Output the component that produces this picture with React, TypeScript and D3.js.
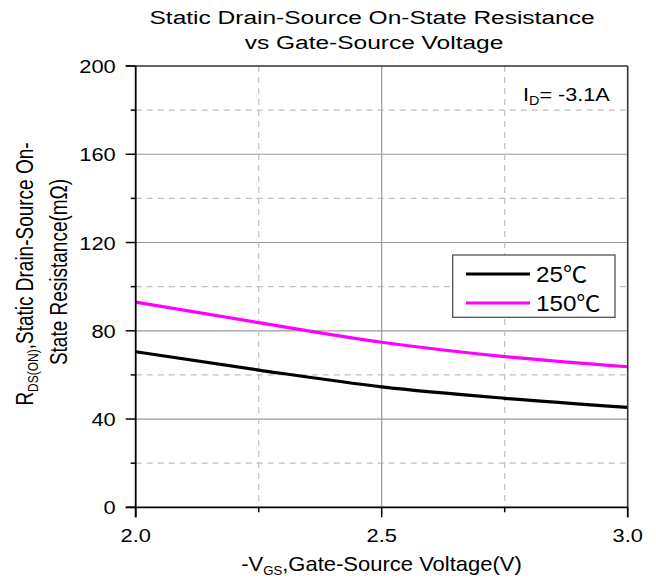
import React from "react";
import * as d3 from "d3";

const vgs = [2.0, 2.25, 2.5, 2.75, 3.0];
const r25 = [70.5, 62.2, 54.6, 49.4, 45.3];
const r150 = [93.0, 83.7, 74.8, 68.3, 63.7];
const yMajor = [0, 40, 80, 120, 160, 200];
const yMinor = [20, 60, 100, 140, 180];
const xMajor = [2.0, 2.5, 3.0];
const xMinor = [2.25, 2.75];
const seriesNames = ["25", "150"];
const seriesColors = ["#000000", "#ff00ff"];

const W = 656, H = 578;
const L = 135.7, R = 627.7, T = 66, B = 507.3;
const FONT = "'Liberation Sans', Arial, sans-serif";
const CJK = "'Noto Sans CJK SC', sans-serif";

function ST(props: {
  x: number;
  y: number;
  sx: number;
  size: number;
  anchor?: string;
  rotate?: number;
  children: React.ReactNode;
}) {
  const { x, y, sx, size, anchor, rotate, children } = props;
  return (
    <g transform={`translate(${x},${y}) scale(${sx},1)${rotate ? ` rotate(${rotate})` : ""}`}>
      <text x={0} y={0} textAnchor={anchor || "start"} fontFamily={FONT} fontSize={size} fill="#000">
        {children}
      </text>
    </g>
  );
}

export default function App() {
  const x = d3.scaleLinear().domain([2, 3]).range([L, R]);
  const y = d3.scaleLinear().domain([0, 200]).range([B, T]);
  const line = d3
    .line<[number, number]>()
    .x((d) => x(d[0]))
    .y((d) => y(d[1]))
    .curve(d3.curveMonotoneX);
  const series = [r25, r150].map((s) => vgs.map((v, i) => [v, s[i]] as [number, number]));

  return (
    <svg width={W} height={H} style={{ position: "absolute", left: 0, top: 0, background: "#fff" }}>
      <rect x={0} y={0} width={W} height={H} fill="#fff" />
      {/* grid */}
      {yMinor.map((v) => (
        <line key={"ym" + v} x1={L} x2={R} y1={y(v)} y2={y(v)} stroke="#c0c0c0" strokeWidth={1.2} strokeDasharray="6,5" />
      ))}
      {yMajor.filter((v) => v > 0 && v < 200).map((v) => (
        <line key={"yM" + v} x1={L} x2={R} y1={y(v)} y2={y(v)} stroke="#9a9a9a" strokeWidth={1.2} />
      ))}
      {xMinor.map((v) => (
        <line key={"xm" + v} x1={x(v)} x2={x(v)} y1={T} y2={B} stroke="#c0c0c0" strokeWidth={1.2} strokeDasharray="6,5" />
      ))}
      {xMajor.filter((v) => v > 2 && v < 3).map((v) => (
        <line key={"xM" + v} x1={x(v)} x2={x(v)} y1={T} y2={B} stroke="#9a9a9a" strokeWidth={1.2} />
      ))}
      {/* curves */}
      {series.map((s, i) => (
        <path key={i} d={line(s) || ""} fill="none" stroke={seriesColors[i]} strokeWidth={3.2} />
      ))}
      {/* frame */}
      <line x1={L - 10} x2={R} y1={T} y2={T} stroke="#333" strokeWidth={1.6} />
      <line x1={R} x2={R} y1={T} y2={B + 10} stroke="#333" strokeWidth={1.6} />
      <line x1={L} x2={L} y1={T} y2={B + 10} stroke="#000" strokeWidth={1.8} />
      <line x1={L - 10} x2={R} y1={B} y2={B} stroke="#000" strokeWidth={1.8} />
      {/* ticks */}
      {yMajor.map((v) => (
        <line key={"tyM" + v} x1={L - 10} x2={L} y1={y(v)} y2={y(v)} stroke="#000" strokeWidth={1.5} />
      ))}
      {yMinor.map((v) => (
        <line key={"tym" + v} x1={L - 5} x2={L} y1={y(v)} y2={y(v)} stroke="#000" strokeWidth={1.5} />
      ))}
      {xMajor.map((v) => (
        <line key={"txM" + v} x1={x(v)} x2={x(v)} y1={B} y2={B + 10} stroke="#000" strokeWidth={1.5} />
      ))}
      {xMinor.map((v) => (
        <line key={"txm" + v} x1={x(v)} x2={x(v)} y1={B} y2={B + 5} stroke="#000" strokeWidth={1.5} />
      ))}
      {/* tick labels */}
      {yMajor.map((v) => (
        <ST key={"ly" + v} x={L - 20} y={y(v) + 7} sx={1.15} size={19} anchor="end">
          {v}
        </ST>
      ))}
      {xMajor.map((v) => (
        <ST key={"lx" + v} x={x(v)} y={541.5} sx={1.15} size={19} anchor="middle">
          {v.toFixed(1)}
        </ST>
      ))}
      {/* titles */}
      <ST x={372} y={23.5} sx={1.29} size={19} anchor="middle">
        Static Drain-Source On-State Resistance
      </ST>
      <ST x={374} y={48.5} sx={1.29} size={19} anchor="middle">
        vs Gate-Source Voltage
      </ST>
      <ST x={381.5} y={571} sx={1.1} size={20} anchor="middle">
        -V<tspan fontSize={12} dy={4}>GS</tspan>
        <tspan dy={-4}>,Gate-Source Voltage(V)</tspan>
      </ST>
      <ST x={33} y={274} sx={1.28} size={19} anchor="middle" rotate={-90}>
        R<tspan fontSize={12} dy={4}>DS(ON)</tspan>
        <tspan dy={-4}>,Static Drain-Source On-</tspan>
      </ST>
      <ST x={67} y={272} sx={1.28} size={19} anchor="middle" rotate={-90}>
        State Resistance(mΩ)
      </ST>
      <ST x={523} y={101} sx={1.2} size={18}>
        I<tspan fontSize={12} dy={4}>D</tspan>
        <tspan dy={-4}>= -3.1A</tspan>
      </ST>
      {/* legend */}
      <rect x={452.7} y={255} width={162.3} height={62.3} fill="#fff" stroke="#444" strokeWidth={1.2} />
      {seriesNames.map((n, i) => (
        <g key={n}>
          <line x1={466} x2={530} y1={274 + i * 29} y2={274 + i * 29} stroke={seriesColors[i]} strokeWidth={3.2} />
          <ST x={536} y={282 + i * 29} sx={1.1} size={22}>
            {n}
            <tspan fontFamily={CJK}>℃</tspan>
          </ST>
        </g>
      ))}
    </svg>
  );
}
